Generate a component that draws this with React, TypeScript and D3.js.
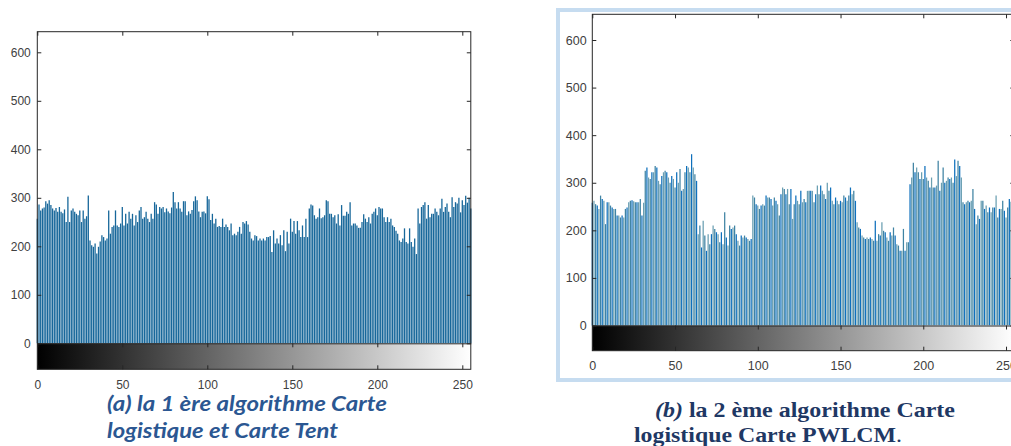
import React, { useEffect, useRef } from 'react'
import * as d3 from 'd3'

// grey levels 0..255 and the axis ticks
const levels = d3.range(256)
const yTicks = [0, 100, 200, 300, 400, 500, 600]
const xTicks = [0, 50, 100, 150, 200, 250]

// (a) histogram, logistic + tent map
const countsA = [
  257, 286, 274, 278, 280, 293, 288, 295, 285, 278, 274, 279, 271, 281, 271, 268,
  276, 250, 302, 250, 274, 278, 271, 267, 264, 274, 250, 274, 257, 262, 305, 212,
  202, 199, 206, 185, 199, 210, 223, 219, 212, 216, 274, 226, 240, 243, 274, 243,
  240, 247, 281, 243, 267, 247, 271, 257, 267, 243, 264, 250, 274, 281, 257, 260,
  271, 257, 250, 267, 257, 291, 286, 267, 281, 278, 281, 270, 278, 272, 268, 280,
  312, 291, 278, 291, 278, 271, 293, 293, 264, 272, 267, 275, 293, 303, 295, 272,
  260, 271, 272, 268, 303, 297, 254, 267, 247, 257, 240, 242, 240, 257, 240, 245,
  240, 233, 247, 223, 226, 223, 230, 240, 226, 250, 247, 252, 245, 230, 216, 212,
  223, 221, 212, 216, 212, 216, 212, 219, 219, 221, 188, 233, 206, 216, 206, 223,
  202, 233, 190, 230, 206, 257, 230, 252, 226, 252, 233, 219, 243, 219, 257, 219,
  278, 286, 284, 264, 257, 260, 278, 258, 260, 264, 295, 293, 267, 267, 260, 264,
  247, 266, 243, 285, 263, 263, 271, 267, 291, 243, 247, 247, 243, 238, 238, 250,
  266, 257, 250, 260, 247, 267, 271, 278, 264, 281, 278, 278, 260, 250, 260, 250,
  257, 243, 240, 232, 226, 212, 209, 216, 237, 209, 206, 237, 209, 199, 216, 184,
  278, 247, 281, 285, 291, 257, 285, 260, 267, 267, 278, 271, 264, 278, 298, 271,
  281, 288, 271, 260, 301, 281, 291, 288, 300, 270, 295, 285, 304, 290, 300, 278
]

// (b) histogram, logistic + PWLCM
const countsB = [
  258, 262, 255, 252, 245, 273, 266, 262, 213, 259, 259, 252, 248, 245, 245, 231,
  231, 227, 231, 227, 245, 248, 259, 262, 263, 261, 259, 259, 259, 266, 231, 258,
  325, 332, 311, 308, 322, 322, 335, 332, 304, 297, 314, 322, 325, 322, 311, 300,
  314, 308, 290, 322, 300, 329, 283, 287, 322, 335, 332, 322, 360, 332, 318, 304,
  192, 210, 164, 220, 189, 157, 192, 171, 192, 210, 203, 196, 192, 175, 196, 171,
  238, 185, 168, 210, 203, 206, 210, 192, 178, 168, 189, 185, 189, 185, 182, 178,
  182, 273, 269, 255, 252, 245, 252, 255, 252, 273, 269, 269, 266, 252, 269, 262,
  255, 231, 276, 290, 287, 276, 287, 255, 287, 224, 255, 273, 262, 255, 283, 259,
  266, 259, 283, 283, 283, 283, 259, 276, 294, 276, 294, 283, 276, 266, 300, 283,
  290, 262, 255, 269, 262, 255, 262, 259, 273, 269, 262, 273, 290, 276, 283, 262,
  217, 206, 203, 189, 185, 182, 185, 182, 185, 182, 178, 220, 178, 192, 189, 217,
  199, 196, 185, 178, 196, 189, 206, 189, 171, 168, 157, 157, 203, 157, 175, 175,
  297, 311, 342, 322, 332, 322, 308, 322, 308, 335, 311, 304, 290, 311, 290, 290,
  294, 346, 283, 300, 332, 300, 304, 311, 308, 311, 300, 349, 314, 346, 335, 311,
  259, 255, 259, 262, 259, 262, 287, 245, 213, 231, 224, 262, 262, 245, 252, 238,
  248, 238, 248, 248, 273, 227, 245, 245, 262, 241, 227, 248, 266, 260, 255, 250
]

const AXIS = '#262626'
const LABEL = '#404040'
const FONT = "'Liberation Sans', Arial, sans-serif"

function drawPanel (svg, counts, cfg) {
  const x = d3.scaleLinear().domain([0, 255]).range([cfg.left, cfg.right])
  const y = d3.scaleLinear().domain([0, 600]).range([cfg.zero, cfg.y600])

  const g = svg.append('g')

  // stems (imhist style)
  g.selectAll('line.stem')
    .data(levels)
    .enter()
    .append('line')
    .attr('class', 'stem')
    .attr('x1', (d) => x(d))
    .attr('x2', (d) => x(d))
    .attr('y1', y(0))
    .attr('y2', (d) => y(counts[d]))
    .attr('stroke', (d) => cfg.color(d))
    .attr('stroke-width', cfg.stem)

  // grey colour bar under the histogram
  const gradId = 'gray-' + cfg.id
  const grad = svg.append('defs').append('linearGradient').attr('id', gradId)
  grad.append('stop').attr('offset', '0%').attr('stop-color', '#000')
  grad.append('stop').attr('offset', '100%').attr('stop-color', '#fff')

  g.append('rect')
    .attr('x', x(0))
    .attr('y', y(0))
    .attr('width', x(255) - x(0))
    .attr('height', cfg.bottom - y(0))
    .attr('fill', 'url(#' + gradId + ')')

  // ticks on top of the colour bar
  g.append('g')
    .attr('transform', 'translate(0,' + y(0) + ')')
    .call(d3.axisTop(x).tickValues(xTicks).tickSizeInner(-4).tickSizeOuter(0).tickFormat(''))
    .call((a) => a.select('.domain').attr('stroke', AXIS))
    .selectAll('line').attr('stroke', AXIS)

  // ticks on the top edge
  g.append('g')
    .attr('transform', 'translate(0,' + cfg.top + ')')
    .call(d3.axisTop(x).tickValues(xTicks).tickSizeInner(-4).tickSizeOuter(0).tickFormat(''))
    .call((a) => a.select('.domain').remove())
    .selectAll('line').attr('stroke', AXIS)

  // ticks on the right edge
  g.append('g')
    .attr('transform', 'translate(' + cfg.right + ',0)')
    .call(d3.axisRight(y).tickValues(yTicks).tickSizeInner(-4).tickSizeOuter(0).tickFormat(''))
    .call((a) => a.select('.domain').remove())
    .selectAll('line').attr('stroke', AXIS)

  // y axis, labels on the left
  const yAxis = g.append('g')
    .attr('transform', 'translate(' + cfg.left + ',0)')
    .call(d3.axisLeft(y).tickValues(yTicks).tickSizeInner(-4).tickSizeOuter(0).tickPadding(cfg.yPad))
  yAxis.select('.domain').remove()
  yAxis.attr('font-family', FONT).attr('font-size', cfg.fontSize)
  yAxis.selectAll('line').attr('stroke', AXIS)
  yAxis.selectAll('text').attr('fill', LABEL)

  // x axis, labels under the colour bar
  const xAxis = g.append('g')
    .attr('transform', 'translate(0,' + cfg.bottom + ')')
    .call(d3.axisBottom(x).tickValues(xTicks).tickSizeInner(-4).tickSizeOuter(0).tickPadding(cfg.xPad))
  xAxis.select('.domain').remove()
  xAxis.attr('font-family', FONT).attr('font-size', cfg.fontSize)
  xAxis.selectAll('line').attr('stroke', AXIS)
  xAxis.selectAll('text').attr('fill', LABEL)

  // axes box
  g.append('rect')
    .attr('x', cfg.left)
    .attr('y', cfg.top)
    .attr('width', cfg.right - cfg.left)
    .attr('height', cfg.bottom - cfg.top)
    .attr('fill', 'none')
    .attr('stroke', AXIS)
    .attr('stroke-width', 1)
}

const panelA = {
  id: 'a', left: 37.3, right: 470.8, top: 31.7, zero: 343.3, y600: 52.3, bottom: 369.3,
  yPad: 6.5, xPad: 11.4, fontSize: 12, stem: 1.3,
  color: () => '#17679a'
}

const panelBColors = ['#0f70bc', '#6a9fb2', '#3f83a3']
const panelB = {
  id: 'b', left: 592.3, right: 1014.3, top: 14.3, zero: 325.5, y600: 40, bottom: 350.7,
  yPad: 5.6, xPad: 10.5, fontSize: 12.5, stem: 1.25,
  color: (i) => panelBColors[i % 3]
}

function App () {
  const ref = useRef(null)

  useEffect(() => {
    const svg = d3.select(ref.current)
    svg.selectAll('*').remove()

    svg.append('rect').attr('width', 1011).attr('height', 446).attr('fill', '#fff')

    // light blue frame around (b)
    svg.append('rect')
      .attr('x', 558)
      .attr('y', 10)
      .attr('width', 480)
      .attr('height', 370)
      .attr('fill', '#fff')
      .attr('stroke', '#c6dcf0')
      .attr('stroke-width', 4)

    drawPanel(svg, countsA, panelA)
    drawPanel(svg, countsB, panelB)

    // caption (a)
    const capA = svg.append('g')
      .attr('font-family', "Lato, 'Open Sans', sans-serif")
      .attr('font-weight', 700)
      .attr('font-style', 'italic')
      .attr('font-size', 20)
      .attr('fill', '#2b5792')
    capA.append('text').attr('x', 107).attr('y', 410.5)
      .attr('textLength', 280).attr('lengthAdjust', 'spacingAndGlyphs')
      .text('(a) la 1 ère algorithme Carte')
    capA.append('text').attr('x', 107).attr('y', 437.5)
      .attr('textLength', 231).attr('lengthAdjust', 'spacingAndGlyphs')
      .text('logistique et Carte Tent')

    // caption (b)
    const capB = svg.append('g')
      .attr('font-family', "'Liberation Serif', 'Times New Roman', serif")
      .attr('font-weight', 700)
      .attr('font-size', 22)
      .attr('fill', '#1f3864')
    const b1 = capB.append('text').attr('x', 655).attr('y', 417)
      .attr('textLength', 300).attr('lengthAdjust', 'spacingAndGlyphs')
    b1.append('tspan').attr('font-style', 'italic').text('(b)')
    b1.append('tspan').text('  la 2 ème algorithme Carte')
    const b2 = capB.append('text').attr('x', 634).attr('y', 442)
      .attr('textLength', 268).attr('lengthAdjust', 'spacingAndGlyphs')
    b2.append('tspan').text('logistique Carte PWLCM')
    b2.append('tspan').attr('font-weight', 400).text('.')
  }, [])

  return (
    <svg
      ref={ref}
      width={1011}
      height={446}
      style={{ position: 'absolute', left: 0, top: 0, display: 'block' }}
    />
  )
}

export default App
